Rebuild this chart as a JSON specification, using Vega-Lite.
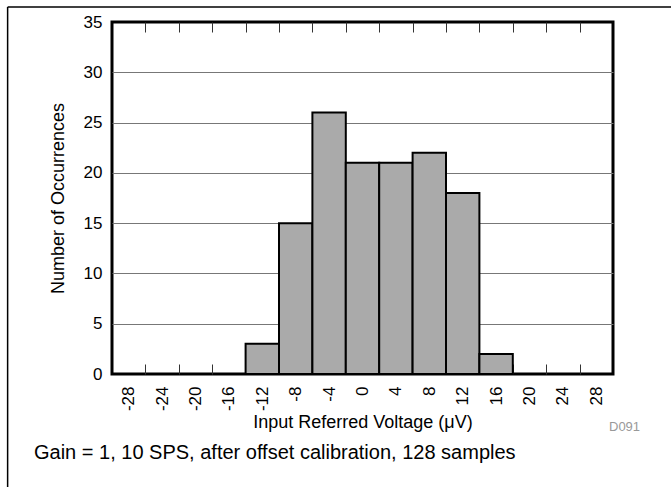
{
  "$schema": "https://vega.github.io/schema/vega-lite/v6.json",
  "width": 501,
  "height": 352,
  "autosize": {"type": "none"},
  "padding": {"left": 112, "top": 22, "right": 58, "bottom": 113},
  "background": "white",
  "config": {
    "view": {"stroke": "black", "strokeWidth": 3},
    "font": "Liberation Sans",
    "axis": {"labelFont": "Liberation Sans", "titleFont": "Liberation Sans", "labelColor": "black", "titleColor": "black", "titleFontWeight": "normal"}
  },
  "title": {
    "text": "Gain = 1, 10 SPS, after offset calibration, 128 samples",
    "orient": "bottom", "anchor": "start", "frame": "group", "dx": -78, "offset": -47,
    "fontSize": 20, "fontWeight": "normal", "color": "black", "font": "Liberation Sans"
  },
  "resolve": {"axis": {"x": "independent"}},
  "layer": [
    {
      "data": {"values": [
        {"lo": -14, "hi": -10, "count": 3},
        {"lo": -10, "hi": -6, "count": 15},
        {"lo": -6, "hi": -2, "count": 26},
        {"lo": -2, "hi": 2, "count": 21},
        {"lo": 2, "hi": 6, "count": 21},
        {"lo": 6, "hi": 10, "count": 22},
        {"lo": 10, "hi": 14, "count": 18},
        {"lo": 14, "hi": 18, "count": 2}
      ]},
      "mark": {"type": "bar", "fill": "#aaaaaa", "stroke": "black", "strokeWidth": 2},
      "encoding": {
        "x": {
          "field": "lo", "type": "quantitative",
          "scale": {"domain": [-30, 30], "nice": false, "zero": false},
          "axis": {
            "orient": "bottom",
            "values": [-28, -26, -24, -22, -20, -18, -16, -14, -12, -10, -8, -6, -4, -2, 0, 2, 4, 6, 8, 10, 12, 14, 16, 18, 20, 22, 24, 26, 28],
            "labelExpr": "datum.value % 4 == 0 ? '' + datum.value : ''",
            "labelAngle": 270, "labelAlign": "right", "labelBaseline": "middle",
            "labelFontSize": 17, "labelPadding": 22, "labelOverlap": false, "labelFlush": false,
            "tickSize": -10, "tickColor": "#333", "tickWidth": 1,
            "tickOpacity": {"condition": {"test": "datum.value % 4 != 0", "value": 1}, "value": 0},
            "domain": false, "grid": false,
            "title": "Input Referred Voltage (μV)", "titleFontSize": 18, "titlePadding": 3
          }
        },
        "x2": {"field": "hi"},
        "y": {
          "field": "count", "type": "quantitative",
          "scale": {"domain": [0, 35], "nice": false},
          "axis": {
            "values": [0, 5, 10, 15, 20, 25, 30, 35],
            "domain": false, "ticks": false, "labelPadding": 10, "labelFontSize": 17,
            "grid": true, "gridColor": "#777", "gridWidth": 1,
            "gridOpacity": {"condition": {"test": "datum.value > 0 && datum.value < 35", "value": 1}, "value": 0},
            "title": "Number of Occurrences", "titleFontSize": 18, "titlePadding": 16
          }
        },
        "y2": {"datum": 0}
      }
    },
    {
      "data": {"values": [{"label": "D091"}]},
      "mark": {"type": "text", "align": "left", "baseline": "middle", "dx": -4, "dy": 53, "fontSize": 13, "color": "#999999", "font": "Liberation Sans"},
      "encoding": {
        "x": {
          "datum": 30, "type": "quantitative",
          "axis": {
            "orient": "top",
            "values": [-26, -22, -18, -14, -10, -6, -2, 2, 6, 10, 14, 18, 22, 26],
            "labels": false, "domain": false, "grid": false,
            "ticks": true, "tickSize": -10, "tickColor": "#333", "tickWidth": 1,
            "title": null
          }
        },
        "y": {"datum": 0, "type": "quantitative"},
        "text": {"field": "label"}
      }
    },
    {
      "data": {"values": [{"frame": "top"}]},
      "mark": {"type": "rule", "color": "black", "strokeWidth": 1.5, "clip": false},
      "encoding": {
        "x": {"datum": -42.5, "type": "quantitative", "axis": null},
        "x2": {"datum": 40},
        "y": {"datum": 36.5, "type": "quantitative"}
      }
    },
    {
      "data": {"values": [{"frame": "left"}]},
      "mark": {"type": "rule", "color": "black", "strokeWidth": 1.5, "clip": false},
      "encoding": {
        "x": {"datum": -42.5, "type": "quantitative", "axis": null},
        "y": {"datum": 36.5, "type": "quantitative"},
        "y2": {"datum": -11.5}
      }
    }
  ]
}
